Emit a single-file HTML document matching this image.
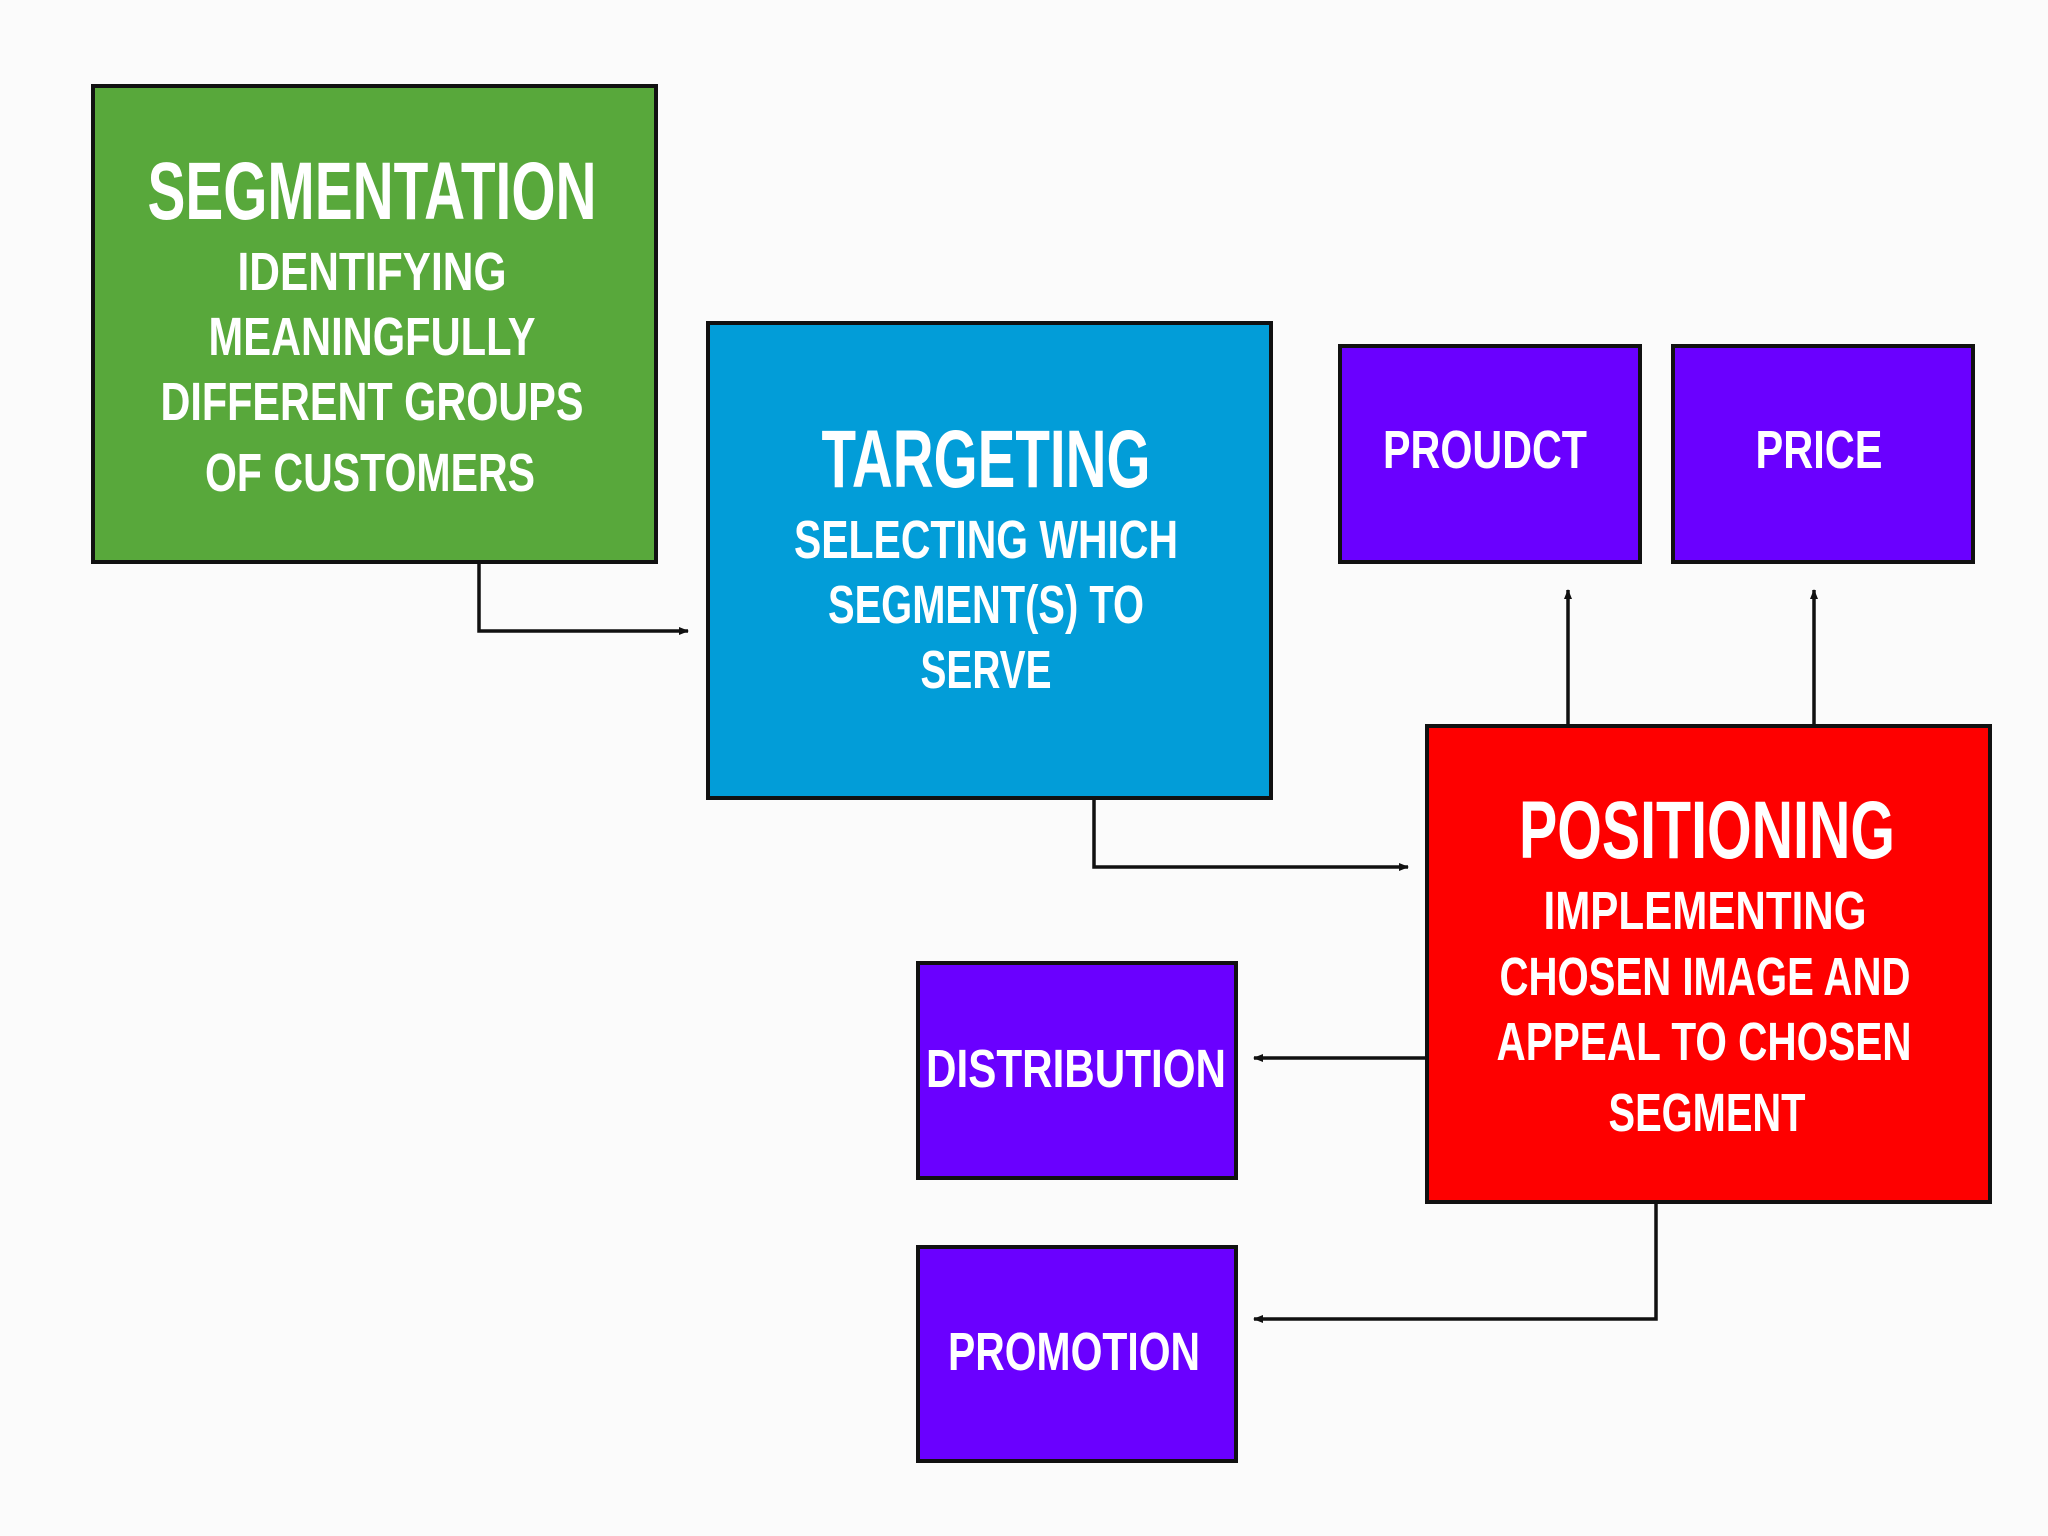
<!DOCTYPE html>
<html><head><meta charset="utf-8"><style>html,body{margin:0;padding:0;background:#fbfbfb;}svg{display:block}</style></head>
<body>
<svg width="2048" height="1536" viewBox="0 0 2048 1536" xmlns="http://www.w3.org/2000/svg">
<defs><marker id="a" markerWidth="10" markerHeight="10" refX="9" refY="5" orient="auto" markerUnits="userSpaceOnUse"><path d="M0,1 L10,5 L0,9 z" fill="#111"/></marker></defs>
<rect width="2048" height="1536" fill="#fbfbfb"/>
<g stroke="#111" stroke-width="4">
<rect x="93" y="86" width="563" height="476" fill="#58a83b"/>
<rect x="708" y="323" width="563" height="475" fill="#029dd8"/>
<rect x="1340" y="346" width="300" height="216" fill="#6a00ff"/>
<rect x="1673" y="346" width="300" height="216" fill="#6a00ff"/>
<rect x="1427" y="726" width="563" height="476" fill="#fe0000"/>
<rect x="918" y="963" width="318" height="215" fill="#6a00ff"/>
<rect x="918" y="1247" width="318" height="214" fill="#6a00ff"/>
</g>
<g stroke="#111" stroke-width="3.5" fill="none" marker-end="url(#a)">
<polyline points="479,562 479,631 688,631"/>
<polyline points="1094,798 1094,867 1408,867"/>
<polyline points="1568,726 1568,590"/>
<polyline points="1814,726 1814,590"/>
<polyline points="1427,1058 1254,1058"/>
<polyline points="1656,1202 1656,1319 1254,1319"/>
</g>
<g fill="#fff" font-family="Liberation Sans, sans-serif" font-weight="bold" text-anchor="middle" lengthAdjust="spacingAndGlyphs">
<text x="372" y="219" font-size="82" textLength="449" lengthAdjust="spacingAndGlyphs">SEGMENTATION</text>
<text x="372" y="290" font-size="54" textLength="269" lengthAdjust="spacingAndGlyphs">IDENTIFYING</text>
<text x="372" y="355" font-size="54" textLength="327" lengthAdjust="spacingAndGlyphs">MEANINGFULLY</text>
<text x="372" y="420" font-size="54" textLength="423" lengthAdjust="spacingAndGlyphs">DIFFERENT GROUPS</text>
<text x="370" y="491" font-size="54" textLength="330" lengthAdjust="spacingAndGlyphs">OF CUSTOMERS</text>
<text x="986" y="487" font-size="82" textLength="329" lengthAdjust="spacingAndGlyphs">TARGETING</text>
<text x="986" y="558" font-size="54" textLength="384" lengthAdjust="spacingAndGlyphs">SELECTING WHICH</text>
<text x="986" y="623" font-size="54" textLength="316" lengthAdjust="spacingAndGlyphs">SEGMENT(S) TO</text>
<text x="986" y="688" font-size="54" textLength="131" lengthAdjust="spacingAndGlyphs">SERVE</text>
<text x="1485" y="468" font-size="54" textLength="204" lengthAdjust="spacingAndGlyphs">PROUDCT</text>
<text x="1819" y="468" font-size="54" textLength="127" lengthAdjust="spacingAndGlyphs">PRICE</text>
<text x="1707" y="858" font-size="82" textLength="376" lengthAdjust="spacingAndGlyphs">POSITIONING</text>
<text x="1705" y="929" font-size="54" textLength="323" lengthAdjust="spacingAndGlyphs">IMPLEMENTING</text>
<text x="1705" y="995" font-size="54" textLength="411" lengthAdjust="spacingAndGlyphs">CHOSEN IMAGE AND</text>
<text x="1704" y="1060" font-size="54" textLength="415" lengthAdjust="spacingAndGlyphs">APPEAL TO CHOSEN</text>
<text x="1707" y="1131" font-size="54" textLength="197" lengthAdjust="spacingAndGlyphs">SEGMENT</text>
<text x="1076" y="1087" font-size="54" textLength="300" lengthAdjust="spacingAndGlyphs">DISTRIBUTION</text>
<text x="1074" y="1370" font-size="54" textLength="252" lengthAdjust="spacingAndGlyphs">PROMOTION</text>
</g>
</svg>
</body></html>
